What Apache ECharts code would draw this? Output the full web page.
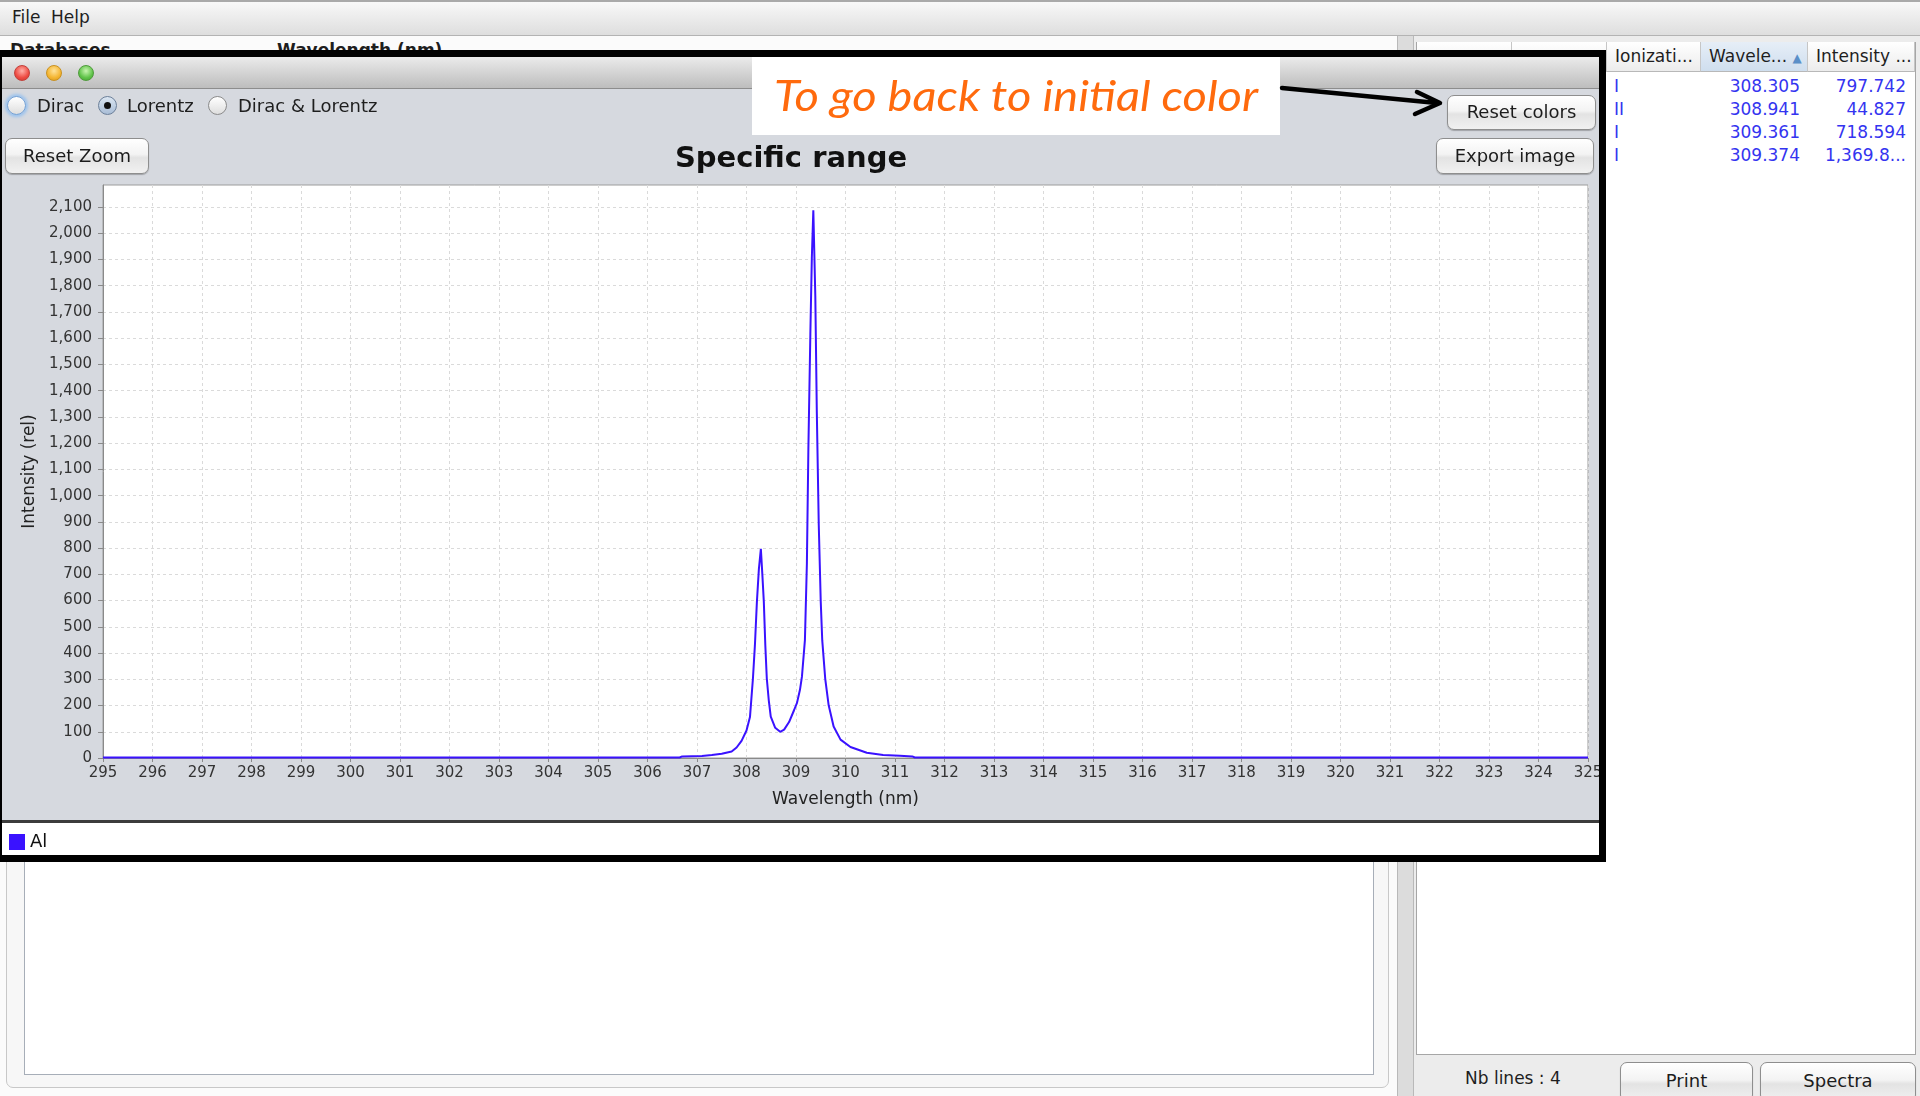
<!DOCTYPE html>
<html>
<head>
<meta charset="utf-8">
<title>Specific range</title>
<script src="https://cdn.jsdelivr.net/npm/echarts@6.0.0/dist/echarts.min.js"></script>
<style>
html, body { margin: 0; padding: 0; }
body { width: 1920px; height: 1096px; position: relative; overflow: hidden; background: #ececec;
  font-family: "DejaVu Sans", sans-serif; color: #1e1e1e; }
.abs { position: absolute; white-space: nowrap; }
.btn { position: absolute; box-sizing: border-box; border: 1px solid #8e8e8e; border-radius: 7px;
  background: linear-gradient(#ffffff, #f3f3f3 45%, #e3e3e3 55%, #f1f1f1);
  box-shadow: 0 1px 1px rgba(0,0,0,0.25); font-size: 18px; text-align: center; color: #1c1c1c; z-index: 12; }
.radio { position: absolute; box-sizing: border-box; width: 19px; height: 19px; border-radius: 50%;
  border: 1px solid #8a8a8a; background: linear-gradient(#ffffff, #dedede); z-index: 12; }
.light { position: absolute; width: 16px; height: 16px; border-radius: 50%; top: 65px; z-index: 12; box-sizing: border-box; }
.th { position: absolute; top: 42px; height: 30px; box-sizing: border-box; border-right: 1px solid #c6c6c6;
  border-bottom: 1px solid #b8b8b8; background: linear-gradient(#ffffff, #ececec); font-size: 17px; line-height: 28px; padding-left: 8px; }
.td { position: absolute; font-size: 17px; color: #3434f0; line-height: 20px; }
</style>
</head>
<body>

<!-- application behind the popup -->
<div class="abs" style="left:0;top:0;width:1920px;height:36px;box-sizing:border-box;border-top:2px solid #a9a9a9;border-bottom:1px solid #b3b3b3;background:linear-gradient(#f8f8f8,#dedede)"></div>
<div class="abs" style="left:12px;top:6px;font-size:17px;line-height:22px">File</div>
<div class="abs" style="left:51px;top:6px;font-size:17px;line-height:22px">Help</div>

<div class="abs" style="left:0;top:36px;width:1397px;height:1060px;background:#fbfbfb"></div>
<div class="abs" style="left:10px;top:40px;font-size:17px;font-weight:bold">Databases</div>
<div class="abs" style="left:277px;top:40px;font-size:17px;font-weight:bold">Wavelength (nm)</div>
<div class="abs" style="left:6px;top:600px;width:1383px;height:488px;box-sizing:border-box;border:1px solid #c8c8c8;border-radius:7px;background:#f7f7f7"></div>
<div class="abs" style="left:24px;top:600px;width:1350px;height:475px;box-sizing:border-box;border:1px solid #a7aeb8;background:#ffffff"></div>

<div class="abs" style="left:1397px;top:36px;width:17px;height:1060px;box-sizing:border-box;border-left:1px solid #b9b9b9;border-right:1px solid #b9b9b9;background:#dcdcdc"></div>

<div class="abs" style="left:1416px;top:42px;width:500px;height:1013px;box-sizing:border-box;border:1px solid #a6a6a6;background:#ffffff"></div>
<div class="th" style="left:1417px;width:95px"></div>
<div class="th" style="left:1512px;width:95px"></div>
<div class="th" style="left:1607px;width:94px">Ionizati...</div>
<div class="th" style="left:1701px;width:107px;background:linear-gradient(#e6eef7,#cfdeee)">Wavele... <span style="color:#5a8fc8;font-size:12px">&#9650;</span></div>
<div class="th" style="left:1808px;width:107px">Intensity ...</div>
<div id="rows"></div>

<div class="abs" style="left:1465px;top:1067px;font-size:17px;line-height:22px">Nb lines : 4</div>
<div class="btn" style="left:1620px;top:1062px;width:133px;height:40px;line-height:36px">Print</div>
<div class="btn" style="left:1760px;top:1062px;width:156px;height:40px;line-height:36px">Spectra</div>

<!-- popup window with the chart -->
<div class="abs" style="left:2px;top:57px;width:1597px;height:32px;box-sizing:border-box;border-bottom:1px solid #8d8d8d;background:linear-gradient(#ebebeb,#bdbdbd);z-index:10"></div>
<div class="light" style="left:14px;border:1px solid #c2403a;background:radial-gradient(circle at 50% 35%,#ffb0a8,#ee4b42 60%,#c9352e)"></div>
<div class="light" style="left:46px;border:1px solid #c8901f;background:radial-gradient(circle at 50% 35%,#ffe39a,#f4b531 60%,#d4951c)"></div>
<div class="light" style="left:78px;border:1px solid #4e9a3a;background:radial-gradient(circle at 50% 35%,#c8f5b0,#5fc349 60%,#43a032)"></div>

<div class="abs" style="left:2px;top:89px;width:1597px;height:731px;background:#d6d9df;z-index:10"></div>
<div class="abs" style="left:2px;top:820px;width:1597px;height:35px;box-sizing:border-box;border-top:3px solid #3c3c3c;background:#ffffff;z-index:10"></div>

<div class="radio" style="left:7px;top:96px;border-color:#6f9fd6;box-shadow:0 0 3px 2px #9cc3ee"></div>
<div class="abs" style="left:37px;top:95px;font-size:18px;line-height:22px;z-index:12">Dirac</div>
<div class="radio" style="left:98px;top:96px;background:linear-gradient(#dbe6f2,#a9bdd6);border-color:#6b7f99"></div>
<div class="abs" style="left:104px;top:102px;width:7px;height:7px;border-radius:50%;background:#111;z-index:13"></div>
<div class="abs" style="left:127px;top:95px;font-size:18px;line-height:22px;z-index:12">Lorentz</div>
<div class="radio" style="left:208px;top:96px"></div>
<div class="abs" style="left:238px;top:95px;font-size:18px;line-height:22px;z-index:12">Dirac &amp; Lorentz</div>

<div class="btn" style="left:5px;top:138px;width:144px;height:36px;line-height:33px">Reset Zoom</div>
<div class="btn" style="left:1447px;top:95px;width:149px;height:35px;line-height:32px">Reset colors</div>
<div class="btn" style="left:1436px;top:138px;width:158px;height:36px;line-height:33px">Export image</div>

<div id="chart" class="abs" style="left:2px;top:89px;width:1597px;height:766px;z-index:11"></div>

<div class="abs" style="left:-5px;top:50px;width:1611px;height:812px;box-sizing:border-box;border:7px solid #000;z-index:20;pointer-events:none"></div>

<!-- annotation -->
<div class="abs" style="left:752px;top:57px;width:528px;height:78px;background:#ffffff;z-index:30"></div>
<div id="note" class="abs" style="left:774px;top:68px;font-family:Lato,'Open Sans',sans-serif;font-style:italic;font-size:43px;line-height:54px;color:#ff6a0d;z-index:31;transform-origin:0 50%">To go back to initial color</div>
<svg class="abs" style="left:0;top:0;z-index:32" width="1920" height="1096">
  <g stroke="#000" stroke-width="4.5" stroke-linecap="round" stroke-linejoin="round" fill="none">
    <line x1="1282" y1="88" x2="1437" y2="103"></line>
    <polyline points="1417,92 1440,103 1415,114"></polyline>
  </g>
</svg>

<script>
// spectrum (Lorentz profile of the Al lines)
var wavelengths = [295, 306.65, 306.7, 307.1, 307.3, 307.5, 307.7, 307.8, 307.9, 308.0,
	308.07, 308.13, 308.17, 308.21, 308.25, 308.29, 308.32, 308.35, 308.38, 308.41,
	308.45, 308.49, 308.58, 308.68, 308.76, 308.86, 308.96, 309.02, 309.08, 309.12,
	309.18, 309.22, 309.25, 309.29, 309.32, 309.35, 309.39, 309.42, 309.46, 309.5,
	309.53, 309.59, 309.66, 309.76, 309.9, 310.1, 310.43, 310.76, 311.1, 311.35,
	311.4, 325];
var intensities = [2, 2, 6, 8, 11, 16, 25, 40, 65, 105,
	156, 303, 430, 595, 720, 797, 700, 595, 430, 303,
	220, 158, 115, 100, 108, 137, 182, 210, 260, 310,
	449, 741, 1178, 1616, 1908, 2088, 1762, 1324, 887, 595,
	449, 303, 201, 120, 70, 42, 20, 11, 9, 6,
	2, 2];
var yTicks = [0, 100, 200, 300, 400, 500, 600, 700, 800, 900, 1000,
	1100, 1200, 1300, 1400, 1500, 1600, 1700, 1800, 1900, 2000, 2100];

// lines table on the right
var lineIon = ['I', 'II', 'I', 'I'];
var lineWave = ['308.305', '308.941', '309.361', '309.374'];
var lineInt = ['797.742', '44.827', '718.594', '1,369.8...'];

var seriesName = 'Al';
var lineColor = '#3a12ff';

var rowsHtml = '';
for (var i = 0; i < lineIon.length; i++) {
	var rowTop = 76 + i * 23;
	rowsHtml += '<div class="td" style="left:1614px;top:' + rowTop + 'px">' + lineIon[i] + '</div>';
	rowsHtml += '<div class="td" style="left:1700px;width:100px;text-align:right;top:' + rowTop + 'px">' + lineWave[i] + '</div>';
	rowsHtml += '<div class="td" style="left:1806px;width:100px;text-align:right;top:' + rowTop + 'px">' + lineInt[i] + '</div>';
}
document.getElementById('rows').innerHTML = rowsHtml;

// the callout text is narrower in the original font
var note = document.getElementById('note');
var w = note.getBoundingClientRect().width;
if (w > 0) {
	note.style.transform = 'scaleX(' + (484 / w) + ')';
}

var spectrum = wavelengths.map(function(x, i) {
	return [x, intensities[i]];
});

var chart = echarts.init(document.getElementById('chart'));
var option = {
	animation : false,
	textStyle : {
		fontFamily : 'DejaVu Sans'
	},
	title : {
		text : 'Specific range',
		left : 789,
		top : 56,
		padding : 0,
		textAlign : 'center',
		textStyle : {
			fontSize : 29,
			fontWeight : 'bold',
			color : '#111'
		}
	},
	legend : {
		data : [ {
			name : seriesName,
			icon : 'rect'
		} ],
		left : 7,
		top : 744,
		padding : 0,
		itemWidth : 16,
		itemHeight : 16,
		selectedMode : false,
		textStyle : {
			fontSize : 18,
			color : '#111'
		}
	},
	grid : {
		left : 101,
		top : 96,
		width : 1485,
		height : 573,
		show : true,
		backgroundColor : '#ffffff',
		borderColor : '#9c9c9c',
		borderWidth : 1,
		outerBoundsMode : 'none'
	},
	xAxis : {
		type : 'value',
		min : 295,
		max : 325,
		interval : 1,
		name : 'Wavelength (nm)',
		nameLocation : 'middle',
		nameGap : 33,
		nameTextStyle : {
			fontSize : 17,
			color : '#222'
		},
		axisLine : {
			show : true,
			lineStyle : {
				color : '#8a8a8a'
			}
		},
		axisTick : {
			show : true,
			length : 4,
			lineStyle : {
				color : '#8a8a8a'
			}
		},
		axisLabel : {
			fontSize : 15,
			color : '#333',
			margin : 8
		},
		splitLine : {
			show : true,
			lineStyle : {
				color : '#dadada',
				type : [ 3, 3 ]
			}
		}
	},
	yAxis : {
		type : 'value',
		min : 0,
		max : 2184,
		name : 'Intensity (rel)',
		nameLocation : 'middle',
		nameGap : 64,
		nameTextStyle : {
			fontSize : 17,
			color : '#222'
		},
		axisLine : {
			show : true,
			lineStyle : {
				color : '#8a8a8a'
			}
		},
		axisTick : {
			show : true,
			length : 5,
			customValues : yTicks,
			lineStyle : {
				color : '#8a8a8a'
			}
		},
		axisLabel : {
			fontSize : 15,
			color : '#333',
			margin : 11,
			customValues : yTicks,
			formatter : function(v) {
				return Number(v).toLocaleString('en-US');
			}
		},
		splitLine : {
			show : true,
			lineStyle : {
				color : '#dadada',
				type : [ 3, 3 ]
			}
		}
	},
	series : [ {
		name : seriesName,
		type : 'line',
		data : spectrum,
		symbol : 'none',
		showSymbol : false,
		clip : true,
		itemStyle : {
			color : lineColor
		},
		lineStyle : {
			color : lineColor,
			width : 2
		}
	} ]
};
chart.setOption(option);
</script>
</body>
</html>
